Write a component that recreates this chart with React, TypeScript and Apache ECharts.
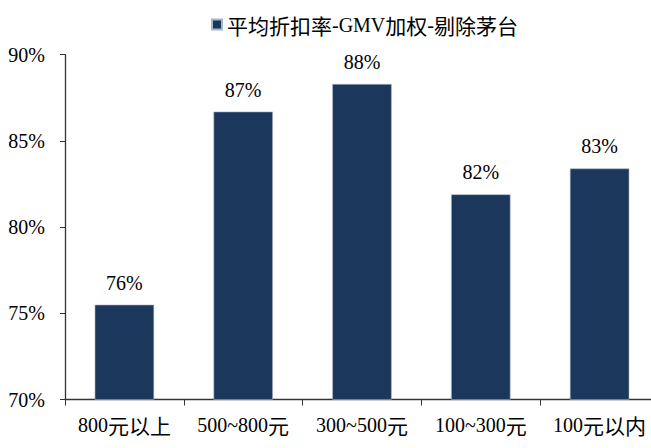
import React, { useEffect, useRef } from "react";
import * as echarts from "echarts";

const categories = ["800元以上", "500~800元", "300~500元", "100~300元", "100元以内"];
const discountValues = [75.5, 86.7, 88.3, 81.9, 83.4];
const seriesName = "平均折扣率-GMV加权-剔除茅台";
const yMin = 70;
const yMax = 90;
const yInterval = 5;

const FONT = "Liberation Serif, Noto Sans CJK SC, serif";
const CJK_FONT = "Noto Sans CJK SC, sans-serif";

const richStyles = {
  l: { fontFamily: FONT, fontSize: 20, color: "#000" },
  c: { fontFamily: CJK_FONT, fontSize: 21, color: "#000" },
};

function toRich(s: string): string {
  let out = "";
  let buf = "";
  let isCjk: boolean | null = null;
  for (const ch of s) {
    const cj = /[\u3400-\u9fff]/.test(ch);
    if (isCjk !== null && cj !== isCjk) {
      out += `{${isCjk ? "c" : "l"}|${buf}}`;
      buf = "";
    }
    isCjk = cj;
    buf += ch;
  }
  if (buf) out += `{${isCjk ? "c" : "l"}|${buf}}`;
  return out;
}

export default function App() {
  const ref = useRef<HTMLDivElement>(null);
  useEffect(() => {
    if (!ref.current) return;
    const chart = echarts.init(ref.current, undefined, { renderer: "svg" });
    chart.setOption({
      animation: false,
      backgroundColor: "#ffffff",
      textStyle: { fontFamily: FONT, color: "#000" },
      legend: {
        data: [seriesName],
        left: 206,
        top: 9,
        itemWidth: 10,
        itemHeight: 10,
        itemGap: 8,
        icon: "rect",
        formatter: (n: string) => toRich(n),
        textStyle: { fontFamily: FONT, fontSize: 20, color: "#000", rich: richStyles },
      },
      grid: { left: 65, width: 594, top: 54.7, bottom: 48.5 },
      xAxis: {
        type: "category",
        data: categories,
        boundaryGap: true,
        axisLine: { lineStyle: { color: "#333", width: 1.3 } },
        axisTick: { show: true, inside: false, length: 6, alignWithLabel: false, lineStyle: { color: "#333" } },
        axisLabel: {
          fontFamily: FONT,
          fontSize: 20,
          color: "#000",
          margin: 15,
          interval: 0,
          formatter: (v: string) => toRich(v),
          rich: richStyles,
        },
      },
      yAxis: {
        type: "value",
        min: yMin,
        max: yMax,
        interval: yInterval,
        splitLine: { show: false },
        axisLine: { show: true, lineStyle: { color: "#333", width: 1.3 } },
        axisTick: { show: true, inside: false, length: 5, lineStyle: { color: "#333" } },
        axisLabel: { fontFamily: FONT, fontSize: 20, color: "#000", margin: 20, formatter: "{value}%" },
      },
      series: [
        {
          name: seriesName,
          type: "bar",
          data: discountValues,
          barWidth: "50%",
          itemStyle: { color: "#1b375c", borderColor: "#a9b6c6", borderWidth: 0.6 },
          label: {
            show: true,
            position: "top",
            distance: 12,
            fontFamily: FONT,
            fontSize: 20,
            color: "#000",
            formatter: (p: any) => Math.round(p.value) + "%",
          },
        },
      ],
    });
    return () => chart.dispose();
  }, []);
  return (
    <div style={{ position: "fixed", left: 0, top: 0, width: 651, height: 448, overflow: "hidden" }}>
      <div ref={ref} style={{ width: 680, height: 448 }} />
    </div>
  );
}
